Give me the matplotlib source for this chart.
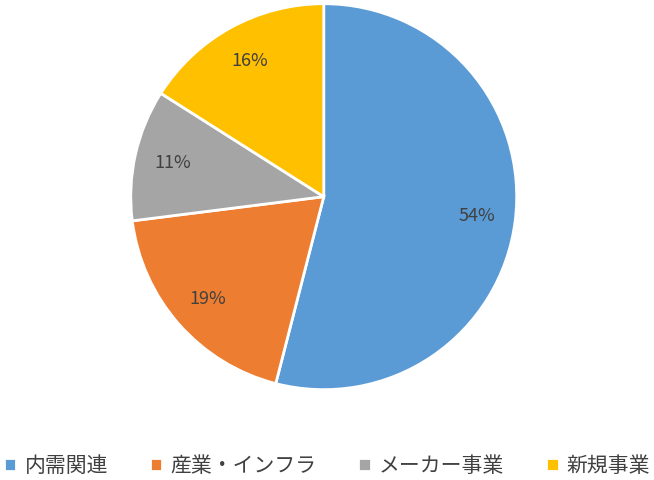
import matplotlib
matplotlib.use("Agg")
import matplotlib.pyplot as plt

plt.rcParams['font.family'] = ['Noto Sans CJK JP', 'DejaVu Sans']

labels = ['内需関連', '産業・インフラ', 'メーカー事業', '新規事業']
values = [54, 19, 11, 16]
colors = ['#5B9BD5', '#ED7D31', '#A5A5A5', '#FFC000']

fig = plt.figure(figsize=(6.54, 4.8), dpi=100)
ax = fig.add_axes([0.197, 0.184, 0.596, 0.8125])
wedges, texts, autotexts = ax.pie(values, colors=colors, startangle=90, counterclock=False,
       autopct='%d%%', pctdistance=0.8,
       wedgeprops=dict(edgecolor='white', linewidth=2))
for t in autotexts:
    t.set_fontsize(13)
    t.set_color('#404040')
ax.set_xlim(-1.01, 1.01)
ax.set_ylim(-1.01, 1.01)
ax.set_aspect('equal')
fig.legend(wedges, labels, loc='center', bbox_to_anchor=(0.5, 0.03), ncol=4, frameon=False,
           fontsize=15, handlelength=0.6, handleheight=0.6, handletextpad=0.4, columnspacing=2.0,
           labelcolor='#404040')
fig.savefig('out.png', dpi=100)
